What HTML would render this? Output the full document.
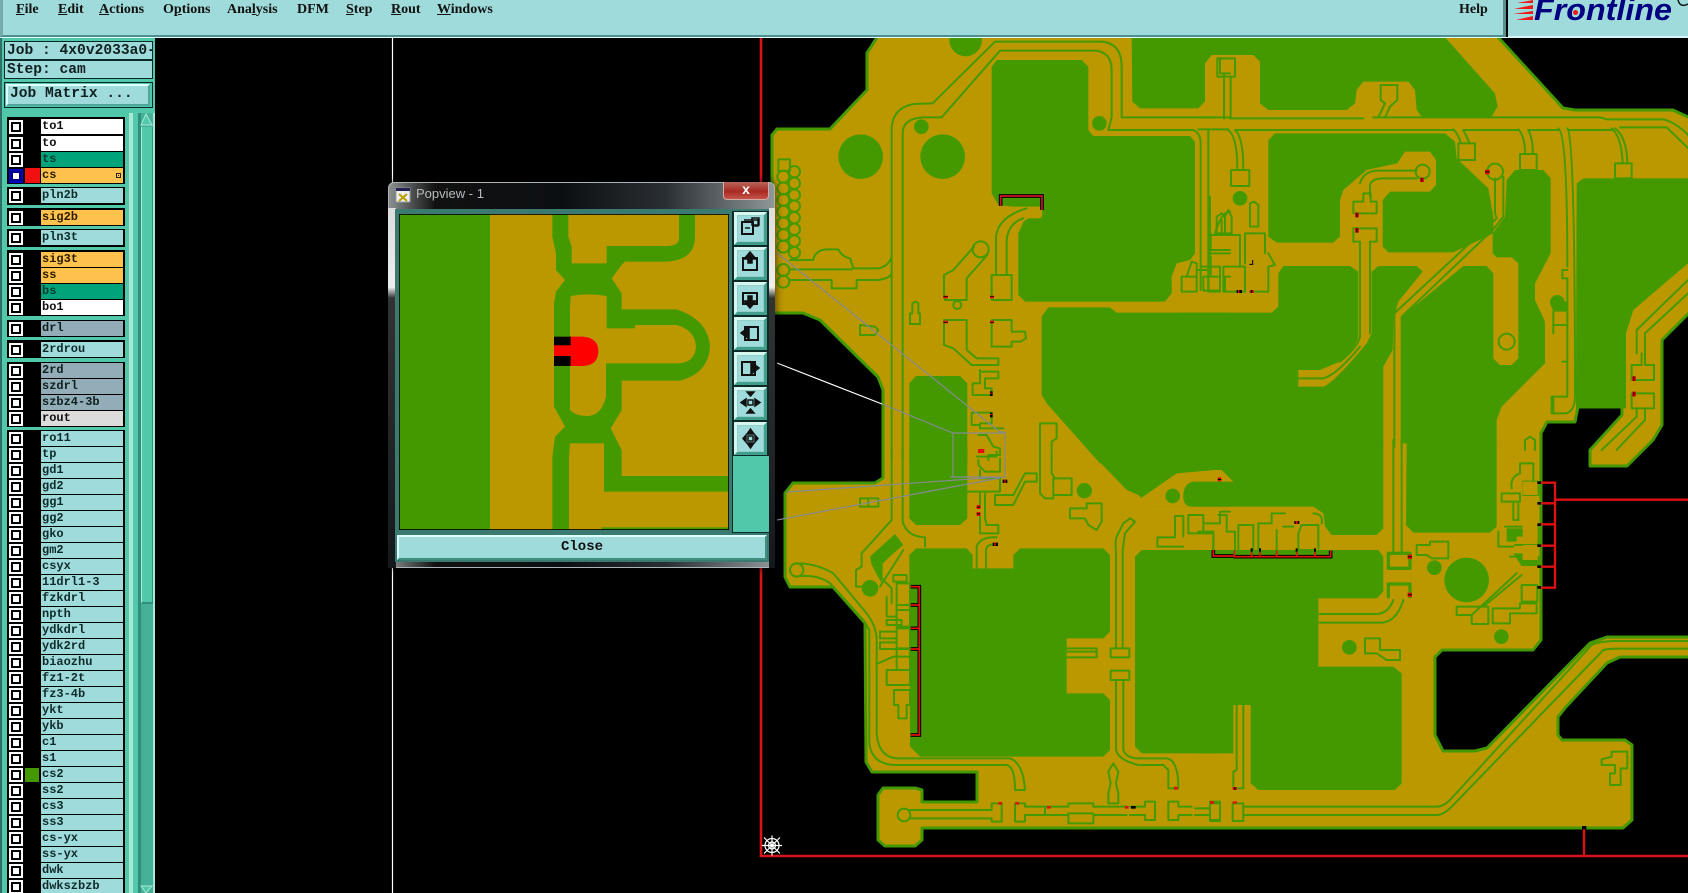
<!DOCTYPE html>
<html><head><meta charset="utf-8"><title>Popview</title>
<style>
html,body{margin:0;padding:0;background:#000;width:1688px;height:893px;overflow:hidden}
#root{position:relative;width:1688px;height:893px;overflow:hidden;background:#000;font-family:"Liberation Mono",monospace}
svg{position:absolute;left:0;top:0}
.abs{position:absolute}
#top{left:0;top:0;width:1503px;height:35px;background:#9fdbdb;border-bottom:2px solid #4f8f8f;border-right:3px solid #5b8f8f}
#top2{left:0;top:37px;width:1688px;height:1px;background:#dff}
#logo{left:1508px;top:0;width:180px;height:36px;background:#9fdbdb;border-bottom:2px solid #d8f4f4}
.m{position:absolute;top:1px;font:bold 14px/18px "Liberation Serif",serif;color:#111}
.m u{text-decoration:underline}
#panel{left:0;top:38px;width:155px;height:855px;background:#52c8aa;border-left:2px solid #2f6f66;box-sizing:border-box}
.jb{position:absolute;left:4px;width:149px;background:#9fdbdb;border:1px solid #0a2a28;box-sizing:border-box;font:bold 14.6px/18px "Liberation Mono",monospace;color:#102020;padding-left:2px;white-space:nowrap;overflow:hidden}
.grp{position:absolute;left:7px;width:118px;background:#000}
.r{position:absolute;left:9px;width:114px;height:15px}
.r i{position:absolute;left:0;top:1px;width:6px;height:6px;border:2px solid #000;outline:2px solid #fff;outline-offset:0;margin:2px;background:#fff;box-sizing:content-box}
.r b{position:absolute;left:32px;top:0;width:82px;height:100%;background:#9fdbdb;font:bold 12px/14px "Liberation Mono",monospace;color:#0f2a2a;padding-left:1px;box-sizing:border-box;overflow:hidden;white-space:nowrap}
.w b{background:#fff;color:#111}.t b{background:#00a37a;color:#0a3a30}.o b{background:#ffc34d;color:#2a1a00}.g b{background:#93adb8;color:#0d2020}.l b{background:#dcdcdc;color:#111}
.bl i{outline-color:#0000c0;border-color:#000080}
#pop{left:388px;top:182px;width:387px;height:386px;border-radius:6px;background:linear-gradient(90deg,#8a9090 0,#111 12%,#0c0f12 45%,#2a2f33 72%,#8f9799 100%);box-shadow:0 0 9px rgba(0,0,0,.7);border:1px solid #aeb4b6;box-sizing:border-box}
#edgeL{left:388px;top:208px;width:8px;height:360px;background:linear-gradient(180deg,#ddd 0,#eee 22%,#333 25%,#14181c 100%)}
#edgeR{left:769px;top:208px;width:6px;height:360px;background:linear-gradient(180deg,#ddd 0,#eee 22%,#333 25%,#14181c 100%)}
#ttl{left:416px;top:186px;font:13px/16px "Liberation Sans",sans-serif;color:#b9bcbe;white-space:nowrap}
#xb{left:723px;top:182px;width:46px;height:18px;background:linear-gradient(180deg,#b8655c,#a82a22 55%,#c4544a);border:1px solid #d9a9a4;border-top:0;border-radius:0 0 4px 4px;box-sizing:border-box;color:#fff;font:bold 14px/15px "Liberation Sans",sans-serif;text-align:center}
#pin{left:395px;top:209px;width:374px;height:353px;background:#3a7a70}
#pside{left:732px;top:211px;width:37px;height:322px;background:#0d2a27}
#pfill{left:733px;top:456px;width:36px;height:76px;background:#52c8aa}
.pb{position:absolute;left:734px;width:33px;height:33px;background:#9fdbdb;border:3px solid;border-color:#d8f6f0 #3f9f8c #3f9f8c #d8f6f0;box-sizing:border-box;box-shadow:inset 0 0 0 1px #8fcfc8}
#closeb{left:397px;top:535px;width:370px;height:25px;background:#9fdbdb;border:2px solid #3f8f80;border-top-color:#dff;border-left-color:#dff;box-sizing:border-box;text-align:center;font:bold 14px/21px "Liberation Mono",monospace;color:#111}
.gr{fill:#449900}
.go{fill:#bc9800}
.tr{fill:none;stroke:#449900;stroke-width:6;stroke-linejoin:round;stroke-linecap:round}
.rd{fill:#e01010}.bk{fill:#000}
</style></head><body><div id="root">

<svg width="1688" height="893" viewBox="0 0 1688 893">
<path fill="#bc9800" stroke="#449900" stroke-width="3" stroke-linejoin="round" d="M878,36 L867,53 V90 L830,129 H777 L772,135 V313 H803 L820,320 L878,377 L883,390 V478 L875,483 H793 L785,493 V577 L790,587 H833 L865,623 L866,762 L872,772 H977 V802 H922 V790 L915,788 H883 L878,795 V840 L885,846 H915 L922,840 V828 H1623 L1632,820 V745 L1625,740 H1562 L1558,735 V717 L1565,708 L1607,663 L1620,657 H1690 V637 H1607 L1590,643 L1487,748 L1475,751 H1443 L1435,735 V657 L1442,650 H1533 L1541,640 V433 L1547,422 H1575 L1578,407 H1622 V415 L1590,450 V466 H1627 L1653,440 L1662,425 V340 L1690,312 V118 L1673,110 H1575 L1563,108 L1497,36 Z"/>

<g transform="translate(750,30) scale(.33333)">
<circle class="gr" cx="647" cy="30" r="49"/><circle class="gr" cx="332" cy="380" r="67"/><circle class="gr" cx="578" cy="380" r="67"/><circle class="gr" cx="514" cy="290" r="22"/><circle class="gr" cx="1048" cy="280" r="22"/>
<path class="gr" d="M725,110 L740,90 H995 L1015,110 V300 L1030,318 H1320 L1335,335 V670 L1320,690 L1280,700 L1265,740 V790 L1245,815 H825 L805,795 V610 L825,565 H870 V530 H790 L745,525 L725,490 Z"/>
<path class="go" d="M735,620 Q745,550 835,533 L850,560 Q775,580 770,735 H735Z"/>
<circle class="go" cx="835" cy="548" r="17"/><ellipse class="go" cx="868" cy="550" rx="9" ry="15"/>
<path class="gr" d="M1145,20 H1440 V75 H1380 L1365,95 V215 L1345,235 H1170 L1147,215 Z"/>
<path class="gr" d="M875,860 L895,832 H1080 L1100,848 H1440 V1300 H1050 L890,1120 L875,1095 Z"/>
<path class="gr" d="M478,1060 L498,1038 H630 L652,1060 V1300 H478 Z"/>
<g class="tr">
<path d="M425,1290 V300 Q425,235 490,222 L548,220 L735,35 H1055 Q1115,40 1115,110 V262 H1440"/>
<path d="M458,1290 V310 Q458,265 520,262 H575 L750,62 H1040 Q1085,70 1085,120 V262 L1075,300 H1330 Q1352,310 1352,340 V780"/>
<path d="M1375,300 V510 M1375,515 V780"/>
<path d="M1405,85 H1440 M1410,85 V130 H1440 M1422,130 V265"/>
<rect x="85" y="388" width="35" height="35"/>
<circle cx="100" cy="440" r="18"/><circle cx="100" cy="475" r="18"/><circle cx="100" cy="510" r="18"/><circle cx="100" cy="545" r="18"/><circle cx="100" cy="580" r="18"/><circle cx="100" cy="615" r="18"/><circle cx="100" cy="650" r="18"/><circle cx="100" cy="720" r="18"/><circle cx="100" cy="755" r="18"/>
<circle cx="133" cy="425" r="17"/><circle cx="133" cy="460" r="17"/><circle cx="133" cy="495" r="17"/><circle cx="133" cy="528" r="17"/><circle cx="133" cy="563" r="17"/><circle cx="133" cy="598" r="17"/><circle cx="133" cy="633" r="17"/><circle cx="133" cy="668" r="17"/>
<path d="M120,690 H190 Q195,660 230,658 H265 Q275,680 300,685 L310,715 H385 Q415,710 425,680"/>
<path d="M120,718 H305"/>
<path d="M120,750 H245 V775 H320 V750 H385 Q420,745 425,730"/>
<path d="M480,882 V850 H487 V820 L497,815 L505,820 V850 H510 V882 Z"/>
<path d="M330,885 L375,890 L385,900 L375,915 H330 Z"/>
<path d="M582,800 V735 L610,720 L672,650 M712,675 L650,745 V810 H585 V800"/>
<circle cx="692" cy="658" r="24"/><circle cx="622" cy="825" r="12"/>
<path d="M725,735 H785 V810 H725 Z"/>
<path d="M738,735 V620 Q745,560 830,535 M770,735 V630 Q775,580 820,565"/>
<path d="M582,870 V945 L610,955 L665,1005 H745 V985 H680 L650,960 V870 Z"/>
<path d="M725,870 H785 V905 H825 L828,925 L812,935 H785 V950 H725 Z"/>
<path d="M690,1020 V1060 H668 V1095 H725 V1075 H705 V1045 H745 V1025 H690"/>
<path d="M665,1148 H725 V1180 H690 V1195 H760 M665,1148 V1185 H690 M685,1215 H710 L730,1250 L750,1255 V1275 H715 V1290"/>
<path d="M870,1180 H920 V1225 L905,1235 V1290 M870,1180 V1290"/>
<path d="M1295,740 H1340 V785 H1295 Z M1310,740 L1325,695 L1340,700 V740"/>
<path d="M1360,740 H1410 V782 H1360 Z M1425,740 H1440 M1425,782 V740"/>
<path d="M1395,610 Q1415,545 1440,545 M1400,610 H1440 M1382,610 V660 H1440 M1382,680 V735 M1415,570 V610"/>
</g>
<g>
<rect class="rd" x="580" y="797" width="14" height="8"/><rect class="bk" x="580" y="799" width="14" height="2"/>
<rect class="rd" x="720" y="797" width="12" height="8"/><rect class="bk" x="720" y="799" width="12" height="2"/>
<rect class="rd" x="580" y="872" width="14" height="8"/><rect class="bk" x="580" y="876" width="14" height="2"/>
<rect class="rd" x="720" y="872" width="12" height="8"/><rect class="bk" x="720" y="876" width="12" height="2"/>
<rect class="bk" x="720" y="1084" width="8" height="14"/><rect class="rd" x="720" y="1088" width="8" height="3"/>
<rect class="bk" x="720" y="1148" width="8" height="14"/><rect class="rd" x="720" y="1152" width="8" height="3"/>
<rect class="rd" x="684" y="1258" width="18" height="11"/>
<path d="M752,528 V498 H876 V540" fill="none" stroke="#000" stroke-width="11"/>
<path d="M752,528 V498 H876 V540" fill="none" stroke="#d01020" stroke-width="5"/>
</g>
</g>

<g transform="translate(1200,0) scale(.33333)">
<path class="gr" d="M-10,100 H725 L885,280 L893,320 L875,350 H665 L650,330 L645,270 L625,245 H490 L470,270 L465,310 L440,330 H205 L180,310 V185 L160,165 H35 L15,190 V290 L-10,310 Z"/>
<path class="gr" d="M225,400 H735 L765,425 L770,475 L865,565 L880,650 V700 L760,757 H565 L548,740 V600 L570,575 H690 L708,555 V480 L690,455 H615 L592,490 L500,510 L430,570 L420,600 V710 L400,728 H230 L205,710 V420 Z"/>
<path class="gr" d="M-60,938 H215 L235,920 V820 L250,798 H450 L475,815 V1010 Q470,1040 420,1085 L360,1110 H295 V1160 H370 Q400,1150 500,1030 L515,1000 V815 L535,798 H650 L668,815 L595,905 L580,960 L578,1050 L550,1100 V1330 H-60 Z"/>
<path class="gr" d="M920,540 L945,510 H1030 L1052,535 V760 L1005,850 V900 L1035,965 V1090 L905,1220 L890,1260 V1330 H605 V950 L790,798 H860 L880,820 V1075 L900,1095 H935 L955,1075 V790 L935,772 H890 L878,760 V700 L900,670 L915,650 Z"/>
<path class="gr" d="M1130,550 L1150,535 H1470 V785 L1300,930 L1278,1000 V1225 H1128 V1180 Z"/>
<g class="tr">
<path d="M-5,352 H40 M90,355 H490 M520,352 H1200 L1220,358 H1390 Q1425,365 1470,410"/>
<path d="M-5,388 H85 M105,390 H760 M790,390 H955 M985,390 H1075 M1105,390 H1240"/>
<path d="M1260,382 H1400 L1470,450"/>
<path d="M72,355 V230 M92,355 V230"/><rect x="52" y="175" width="53" height="55"/>
<path d="M542,300 V255 H592 V300 L570,320 L555,352 M542,300 L555,310 L535,352"/>
<path d="M85,390 Q112,410 112,510 M105,390 Q130,410 130,510"/>
<rect x="93" y="510" width="55" height="48"/>
<path d="M760,388 Q780,410 782,430 M790,390 Q805,420 808,430"/><rect x="775" y="430" width="50" height="50"/>
<path d="M955,388 Q975,410 975,460 M985,390 Q1000,420 998,460"/><rect x="960" y="462" width="50" height="48"/>
<path d="M1075,385 Q1102,400 1102,800 M1102,810 H1087 V835 H1102 V1080 M1087,1085 H1102 V1190 M1102,385 Q1125,410 1125,1190 Q1125,1230 1100,1240 H1055 V1190 H1100"/>
<path d="M1235,385 Q1265,410 1268,490 M1245,385 Q1280,410 1282,490"/><rect x="1245" y="490" width="50" height="45"/>
<circle cx="885" cy="515" r="24"/><path d="M885,535 V640 L890,655 L583,940 V1340 M910,530 V650 L878,690 L605,950 V1340"/>
<path d="M480,550 Q490,515 530,512 H650 M510,590 V555 Q515,535 550,535 H650"/>
<circle cx="668" cy="515" r="21"/>
<path d="M460,605 H490 V580 H512 V605 H530 V640 H460 Z M460,685 H530 V725 H510 V1000 M460,685 V725 H480 V1010 Q475,1040 420,1085"/>
<path d="M295,1135 H370 Q410,1125 480,1040"/>
<path d="M30,620 V590 M5,800 H30 V625 M-5,810 H25 V875 H60 V800 H30 M70,875 V800 H135 V875 Z M150,875 H205 V800 L225,795 L205,760 M135,790 V700 H175 M50,700 V650 L65,640 L75,650 V700 M75,690 V650 L85,630 L95,650 V700 M150,680 V610 L162,605 L175,615 V680 H150 M30,705 H120 V800 M180,700 H195 V760 M30,760 H90"/>
<circle cx="920" cy="1025" r="24"/>
<path d="M975,1350 V1320 L990,1310 L1005,1320 V1350"/>
<path d="M1060,935 V975 H1100 M1060,975 V1000"/>
<path d="M1060,1190 V1240"/>
<path d="M1325,1060 V1095 H1295 V1140 H1362 V1095 H1335 V1060 M1295,1180 H1362 V1225 H1295 Z"/>
<path d="M1310,1225 V1250 L1205,1350 M1335,1225 V1260 L1250,1350 M1310,1060 V990 L1464,840 M1335,1060 V1000 L1464,880"/>
</g>
<circle class="gr" cx="120" cy="595" r="22"/><circle class="gr" cx="1072" cy="907" r="22"/>
<path class="gr" d="M1050,905 H1103 V935 H1060 Z"/>
<g>
<rect class="rd" x="465" y="638" width="12" height="14"/><rect class="bk" x="469" y="638" width="3" height="14"/>
<rect class="rd" x="465" y="684" width="12" height="14"/><rect class="bk" x="469" y="684" width="3" height="14"/>
<rect class="rd" x="660" y="533" width="12" height="13"/><rect class="bk" x="664" y="533" width="3" height="13"/>
<rect class="rd" x="855" y="509" width="14" height="14"/><rect class="bk" x="855" y="514" width="14" height="3"/>
<rect class="bk" x="110" y="870" width="16" height="9"/><rect class="rd" x="114" y="870" width="4" height="9"/>
<rect class="rd" x="149" y="870" width="12" height="9"/><rect class="bk" x="153" y="870" width="4" height="9"/>
<rect class="rd" x="1296" y="1129" width="12" height="14"/><rect class="bk" x="1300" y="1129" width="3" height="14"/>
<rect class="rd" x="1296" y="1175" width="12" height="14"/><rect class="bk" x="1300" y="1175" width="3" height="14"/>
<path d="M148,793 H158 V780" fill="none" stroke="#000" stroke-width="3"/>
</g>
</g>

<g transform="translate(1200,440) scale(.33333)">
<path class="gr" d="M-10,0 H550 V265 L530,285 H395 L375,260 L370,220 L340,200 H-10 Z"/>
<path class="go" d="M-10,90 H80 L95,92 V110 L75,130 H-10 Z"/>
<path class="gr" d="M620,0 H890 V260 L870,278 H640 L618,255 Z"/>
<path class="gr" d="M-10,330 H535 L550,350 V455 L530,475 H355 V680 H580 L605,700 V1030 L585,1050 H175 L152,1030 V795 H85 V920 L60,940 H-10 Z"/>
<g class="tr">
<path d="M-5,95 H40 M-5,125 H45 M45,90 V125"/>
<path d="M580,0 V340 M605,0 V340"/>
<path d="M565,340 H630 V385 H565 Z" stroke-width="10"/>
<path d="M565,470 V432 H630 V470" stroke-width="10"/>
<path d="M358,522 H530 Q565,520 580,480 M358,548 H545 Q590,545 610,480"/>
<path d="M650,315 H690 V305 H745 V355 H695 L680,345 H650 Z"/>
<path d="M495,595 H540 V630 H600 V660 H560 L530,640 H495 Z"/>
<path d="M110,795 V990 L100,995 V1045 H130 V795"/>
<path d="M98,1090 H130 V1143 H98 Z M30,1090 H60 V1143 H30 Z M-5,1105 H30 M-5,1125 H30"/>
<path d="M130,1100 H710 Q730,1100 750,1080 L1175,615 Q1195,605 1240,603 H1470"/>
<path d="M130,1125 H710 Q730,1125 755,1100 L1210,630 Q1230,625 1260,626 H1470"/>
<path d="M1235,935 H1282 V985 H1262 V1035 H1230 V1000 H1245 V975 H1205 V958 L1235,950 Z"/>
<path d="M770,500 H835 L865,500 V552 H815 V525 H770 Z M815,525 L950,400 M850,500 L965,405"/>
<path d="M878,505 H960 V490 H1010 V520 H930 V550 H878 Z"/>
<path d="M965,435 H1012 V485 H965 Z"/>
<path d="M970,125 H1015 V165 H970 Z M935,145 Q930,110 960,100 V70 H1000 V120 M905,160 H960 V185 H905 Z M940,190 V240 H955 V190 M915,260 H1015 V315 M895,275 V320 H940 M930,350 H1015 V380 M945,315 H1015"/>
<path d="M40,330 V275 H-5 M105,330 V275 H80 V225 H55 M115,330 V255 H160 V330 M175,330 V250 H215 M230,330 V270 M255,220 H215 V250 M295,330 V280 L305,255 H355 V325 M300,330 H345 M250,260 H280 M340,220 Q370,220 365,250"/>
</g>
<circle class="gr" cx="703" cy="383" r="22"/><circle class="gr" cx="800" cy="420" r="67"/><circle class="gr" cx="904" cy="590" r="22"/><circle class="gr" cx="448" cy="622" r="22"/>
<path class="gr" d="M920,265 H970 V290 H950 V305 H920 Z M940,340 H1012 V378 H965 Z"/>
<rect class="go" x="968" y="125" width="45" height="40"/><rect class="go" x="968" y="190" width="45" height="45"/><rect class="go" x="968" y="250" width="45" height="55"/><rect class="go" x="968" y="315" width="45" height="45"/>
<g fill="none" stroke="#e01010" stroke-width="7">
<path d="M1015,128 H1065 V443 H1015 M1015,190 H1065 M1015,253 H1065 M1015,317 H1065 M1015,380 H1065 M1065,179 H1470"/>
<path d="M1152,1160 V1248"/>
</g>
<g class="bk"><rect x="1012" y="124" width="11" height="8"/><rect x="1012" y="186" width="11" height="8"/><rect x="1012" y="250" width="11" height="8"/><rect x="1012" y="313" width="11" height="8"/><rect x="1012" y="376" width="11" height="8"/><rect x="1012" y="438" width="11" height="8"/><rect x="1146" y="1158" width="13" height="10"/></g>
<path d="M38,332 V350 H392 V332" fill="none" stroke="#000" stroke-width="11"/>
<path d="M38,332 V350 H392 V332 M103,332 V350 M155,325 V350 M180,325 V350 M230,332 V350 M290,332 V350 M345,325 V350" fill="none" stroke="#e01010" stroke-width="5"/>
<path d="M155,325 V335 M180,325 V335 M290,325 V335 M345,325 V335" fill="none" stroke="#000" stroke-width="6"/>
<rect class="bk" x="283" y="243" width="15" height="9"/><rect class="rd" x="287" y="243" width="6" height="9"/>
<rect class="rd" x="52" y="110" width="12" height="14"/><rect class="bk" x="52" y="115" width="12" height="3"/>
<rect class="rd" x="623" y="344" width="13" height="13"/><rect class="bk" x="623" y="349" width="13" height="3"/>
<rect class="rd" x="623" y="458" width="13" height="13"/><rect class="bk" x="623" y="463" width="13" height="3"/>
<rect class="rd" x="98" y="1041" width="13" height="9"/><rect class="bk" x="103" y="1041" width="3" height="9"/>
<rect class="rd" x="98" y="1084" width="13" height="7"/><rect class="rd" x="30" y="1084" width="13" height="7"/>
</g>

<g transform="translate(750,450) scale(.33333)">
<path class="gr" d="M478,-10 H652 V205 L630,225 H498 L478,205 Z"/>
<path class="gr" d="M1010,-5 H1450 V170 H1200 L1165,135 L1130,120 Z"/>
<path class="go" d="M1195,180 L1165,150 L1280,70 L1395,60 H1415 L1450,95 H1330 Q1300,100 1300,140 Q1300,170 1325,170 H1200Z"/>
<rect x="1300" y="105" width="160" height="65" rx="28" class="gr"/>
<path class="gr" d="M478,315 L498,295 H650 L668,315 V355 H790 V315 L810,295 H1060 L1080,315 V545 L1060,565 H950 V730 H1060 L1080,750 V900 L1060,920 H510 L480,890 Z"/>
<path class="gr" d="M1155,320 L1175,300 H1450 V910 H1175 L1155,890 Z"/>
<g class="tr">
<path d="M425,-5 V210 L335,310 V350 L318,360 V410 H340"/>
<path d="M458,-5 V215 Q470,260 525,262 V290"/>
<path d="M140,340 Q200,340 250,370 L350,490 Q380,530 380,570 V850 Q385,920 440,925 H780 Q820,940 825,1020 H795 Q795,950 770,945 H430 Q365,940 358,880 V540 L340,510 L240,400 Q200,370 135,380"/>
<circle cx="140" cy="360" r="20"/>
<circle cx="462" cy="1095" r="19"/>
<path d="M480,1080 H725 V1060 H755 V1115 H725 V1105 H480"/>
<path d="M795,1060 H825 V1070 H885 V1095 H825 V1115 H795 Z M890,1070 H955 V1060 H1030 V1070 H1130 M890,1095 H955 V1120 H1030 V1095 H1130 M1140,1070 H1185 V1055 H1215 V1110 H1185 V1095 H1140 M1030,1090 H955 M1255,1055 H1285 V1070 H1325 M1255,1055 V1110 H1285 V1095 H1325 M1335,1075 H1380 V1055 H1410 V1110 H1380 V1095 H1335"/>
<path d="M1075,1060 H1105 V1030 L1098,1000 L1105,965 L1090,940 L1075,965 L1082,1000 L1075,1030 Z"/>
<path d="M1098,310 Q1095,270 1100,260 L1120,220 L1140,205 L1155,215 L1125,250 L1118,300 V595 M1098,310 V595 M1082,595 H1138 V622 H1082 Z M1082,662 H1138 V690 H1082 Z M1098,690 V900 Q1105,930 1165,945 M1120,690 V900 Q1130,925 1165,925 H1250 Q1285,930 1285,1015 H1255 V960 L1240,945 H1170"/>
<path d="M950,595 H1040 V622 H950 M950,605 H1040"/>
<path d="M680,355 V290 Q690,260 740,262 M708,355 V300 Q710,280 740,285"/>
<path d="M735,165 V135 H790 L825,70 H860 V95 L825,95 L790,165 Z M680,20 H740 V5 M685,30 V45 L705,65 H750 V25 M650,125 H750 V85 H690 V60"/>
<path d="M690,130 V170 M705,130 V205 L710,225 H745 V250 H690 V200"/>
<path d="M870,20 V130 L885,145 H910 V85 H965 V135 H910 M905,20 V70 L915,85"/>
<path d="M960,175 H1010 V160 H1055 V215 L1040,240 L1015,225 L1005,205 H960 Z"/>
<path d="M1222,290 V262 H1275 V198 H1300 V260 M1222,290 H1300 M1315,195 H1360 V220 H1410 V185 H1440 M1315,195 V250 H1390 V310 M1360,250 V225"/>
<path d="M390,410 L460,300 M395,345 V385 L425,415 V460 M445,290 L395,340 M430,375 H470 V395 H430 Z M410,440 V500 H440 M410,510 H455 V525 H410 Z M390,545 H440 V565 H390 Z M390,577 H440 V597 H390 Z M385,640 L430,620 H480 M410,660 H480 V705 H410 Z M432,720 H480 V765 H470 V805 H445 V765 H432 Z M440,535 H480 M440,400 H480 V480 H440 Z M440,465 H480 V530 H440 Z M440,535 H480 V595 H440 Z M440,597 H480 V660 H440 Z"/>
<path d="M330,145 H385 V170 H330 Z M355,145 V170"/>
</g>
<path class="gr" d="M360,320 L435,252 L460,285 L395,340 L395,400 L365,345 Z"/>
<circle class="gr" cx="360" cy="415" r="25"/><circle class="gr" cx="1003" cy="122" r="23"/><circle class="gr" cx="1268" cy="138" r="22"/>
<path d="M482,410 H508 V855 H482 M482,465 H508 M482,535 H508 M482,597 H508" fill="none" stroke="#000" stroke-width="11"/>
<path d="M482,410 H508 V855 H482 M482,465 H508 M482,535 H508 M482,597 H508" fill="none" stroke="#e01010" stroke-width="5"/>
<path d="M1390,300 V318 H1450" fill="none" stroke="#000" stroke-width="11"/>
<path d="M1390,300 V318 H1450" fill="none" stroke="#e01010" stroke-width="5"/>
<rect class="bk" x="758" y="89" width="14" height="10"/><rect class="rd" x="763" y="89" width="4" height="10"/>
<rect class="rd" x="680" y="165" width="11" height="12"/><rect class="bk" x="680" y="170" width="11" height="3"/>
<rect class="rd" x="680" y="186" width="11" height="12"/><rect class="bk" x="680" y="190" width="11" height="3"/>
<rect class="bk" x="728" y="278" width="16" height="10"/><rect class="rd" x="733" y="278" width="4" height="10"/>
<rect class="rd" x="685" y="-3" width="18" height="11"/>
<rect class="rd" x="745" y="1056" width="11" height="8"/><rect class="rd" x="796" y="1056" width="11" height="8"/><rect class="rd" x="891" y="1068" width="11" height="8"/><rect class="rd" x="1125" y="1068" width="11" height="8"/><rect class="bk" x="1143" y="1068" width="14" height="8"/><rect class="rd" x="1272" y="1010" width="11" height="9"/><rect class="rd" x="1380" y="1053" width="11" height="8"/><rect class="rd" x="1403" y="82" width="11" height="12"/><rect class="bk" x="1403" y="87" width="11" height="3"/>
</g>

<path d="M761,36 V856 H1690" fill="none" stroke="#d81418" stroke-width="2.6"/>
<path d="M392.500,38 V893" stroke="#fff" stroke-width="1.2"/>
<g fill="none" stroke="#858a90" stroke-width="1.2">
<path d="M777,253 L1000,432 L1005,432"/>
<path d="M882,404 L953,433 H1005 V477 L1000,477 L950,477 H953 V433"/>
<path d="M787,492 L1000,477"/>
<path d="M777,520 L1000,478"/>
</g>
<path d="M777,363 L882,404" stroke="#fff" stroke-width="1.2"/>
<g transform="translate(772,845.500)" fill="none" stroke="#fff" stroke-width="1.2"><circle r="7"/><circle r="3.500"/><path d="M-10,0 H10 M0,-10 V10 M-8,-8 L8,8 M-8,8 L8,-8"/></g>
</svg>

<div class="abs" style="left:0;top:0;width:1688px;height:38px;background:#000"></div>
<div class="abs" id="top"></div>
<div class="abs" id="top2"></div>
<div class="abs" style="left:0;top:0;width:3px;height:36px;background:#7aa"></div>
<span class="m" style="left:16px"><u>F</u>ile</span><span class="m" style="left:58px"><u>E</u>dit</span><span class="m" style="left:99px"><u>A</u>ctions</span><span class="m" style="left:163px">O<u>p</u>tions</span><span class="m" style="left:227px">Ana<u>l</u>ysis</span><span class="m" style="left:297px">DFM</span><span class="m" style="left:346px"><u>S</u>tep</span><span class="m" style="left:391px"><u>R</u>out</span><span class="m" style="left:437px"><u>W</u>indows</span><span class="m" style="left:1459px">Help</span>
<div class="abs" id="logo"></div>
<svg width="1688" height="40" viewBox="0 0 1688 40" style="height:40px">
<g fill="#f01818"><path d="M1533,0 V3 H1517 Z"/><path d="M1533,5 V9 H1514 Z"/><path d="M1533,11 V14 H1513 Z"/><path d="M1533,16 V20 H1516 Z"/></g>
<text x="1534" y="20" font-family="Liberation Sans, sans-serif" font-weight="bold" font-style="italic" font-size="31" fill="#000080" textLength="138" lengthAdjust="spacingAndGlyphs">Frontline</text>
<circle cx="1575.500" cy="12.500" r="2.500" fill="#f01818"/>
<path d="M1688,4 Q1680,8 1678,0" fill="none" stroke="#111" stroke-width="1.500"/>
</svg>

<div class="abs" id="panel"></div>
<div class="jb" style="top:41px;height:19px">Job : 4x0v2033a0-</div>
<div class="jb" style="top:60px;height:19px">Step: cam</div>
<div class="abs" style="left:4px;top:82px;width:149px;height:26px;background:#52c8aa;border:1px solid #0a2a28;box-sizing:border-box"></div>
<div class="abs" style="left:6px;top:84px;width:144px;height:22px;background:#9fdbdb;border:2px solid #4fa79a;border-top-color:#dff;border-left-color:#dff;box-sizing:border-box;font:bold 14.6px/17px 'Liberation Mono',monospace;color:#102020;padding-left:2px;white-space:nowrap">Job Matrix ...</div>
<div class="abs" style="left:129px;top:113px;width:4px;height:780px;background:#a8e8d4"></div>
<div class="abs" style="left:138px;top:113px;width:3px;height:780px;background:#2f8f78"></div>
<div class="abs" style="left:141px;top:113px;width:12px;height:780px;background:#44b097"></div>
<div class="abs" style="left:153px;top:113px;width:2px;height:780px;background:#a8e8d4"></div>
<div class="abs" style="left:141px;top:127px;width:12px;height:477px;background:#52c8aa;border-left:1px solid #a8e8d4;border-right:1px solid #2f8f78;border-bottom:2px solid #2f8f78;box-sizing:border-box"></div>
<svg width="155" height="893" viewBox="0 0 155 893"><path d="M146,114 L141,125 H152 Z" fill="#52c8aa" stroke="#a8e8d4"/><path d="M146,893 L141,886 H152 Z" fill="#52c8aa" stroke="#a8e8d4"/></svg>
<div class="grp" style="top:117px;height:67px"></div>
<div class="grp" style="top:187px;height:18px"></div>
<div class="grp" style="top:208px;height:18px"></div>
<div class="grp" style="top:229px;height:18px"></div>
<div class="grp" style="top:250px;height:66px"></div>
<div class="grp" style="top:320px;height:17px"></div>
<div class="grp" style="top:340px;height:18px"></div>
<div class="grp" style="top:362px;height:65px"></div>
<div class="grp" style="top:430px;height:463px"></div>
<div class="abs" style="left:25px;top:168px;width:15px;height:15px;background:#f01010"></div>
<div class="abs" style="left:25px;top:768px;width:14px;height:14px;background:#449900"></div>
<div class="r w" style="top:119px"><i></i><b>to1</b></div>
<div class="r w" style="top:136px"><i></i><b>to</b></div>
<div class="r t" style="top:152px"><i></i><b>ts</b></div>
<div class="r o bl" style="top:168px"><i></i><b>cs</b></div>
<div class="abs" style="left:116px;top:173px;width:5px;height:5px;background:#222;border:1px solid #222;box-sizing:border-box;outline:1px solid #ffc34d;outline-offset:-3px"></div>
<div class="r" style="top:188px"><i></i><b>pln2b</b></div>
<div class="r o" style="top:210px"><i></i><b>sig2b</b></div>
<div class="r" style="top:230px"><i></i><b>pln3t</b></div>
<div class="r o" style="top:252px"><i></i><b>sig3t</b></div>
<div class="r o" style="top:268px"><i></i><b>ss</b></div>
<div class="r t" style="top:284px"><i></i><b>bs</b></div>
<div class="r w" style="top:300px"><i></i><b>bo1</b></div>
<div class="r g" style="top:321px"><i></i><b>drl</b></div>
<div class="r" style="top:342px"><i></i><b>2rdrou</b></div>
<div class="r g" style="top:363px"><i></i><b>2rd</b></div>
<div class="r g" style="top:379px"><i></i><b>szdrl</b></div>
<div class="r g" style="top:395px"><i></i><b>szbz4-3b</b></div>
<div class="r l" style="top:411px"><i></i><b>rout</b></div>
<div class="r" style="top:431px"><i></i><b>ro11</b></div>
<div class="r" style="top:447px"><i></i><b>tp</b></div>
<div class="r" style="top:463px"><i></i><b>gd1</b></div>
<div class="r" style="top:479px"><i></i><b>gd2</b></div>
<div class="r" style="top:495px"><i></i><b>gg1</b></div>
<div class="r" style="top:511px"><i></i><b>gg2</b></div>
<div class="r" style="top:527px"><i></i><b>gko</b></div>
<div class="r" style="top:543px"><i></i><b>gm2</b></div>
<div class="r" style="top:559px"><i></i><b>csyx</b></div>
<div class="r" style="top:575px"><i></i><b>11drl1-3</b></div>
<div class="r" style="top:591px"><i></i><b>fzkdrl</b></div>
<div class="r" style="top:607px"><i></i><b>npth</b></div>
<div class="r" style="top:623px"><i></i><b>ydkdrl</b></div>
<div class="r" style="top:639px"><i></i><b>ydk2rd</b></div>
<div class="r" style="top:655px"><i></i><b>biaozhu</b></div>
<div class="r" style="top:671px"><i></i><b>fz1-2t</b></div>
<div class="r" style="top:687px"><i></i><b>fz3-4b</b></div>
<div class="r" style="top:703px"><i></i><b>ykt</b></div>
<div class="r" style="top:719px"><i></i><b>ykb</b></div>
<div class="r" style="top:735px"><i></i><b>c1</b></div>
<div class="r" style="top:751px"><i></i><b>s1</b></div>
<div class="r" style="top:767px"><i></i><b>cs2</b></div>
<div class="r" style="top:783px"><i></i><b>ss2</b></div>
<div class="r" style="top:799px"><i></i><b>cs3</b></div>
<div class="r" style="top:815px"><i></i><b>ss3</b></div>
<div class="r" style="top:831px"><i></i><b>cs-yx</b></div>
<div class="r" style="top:847px"><i></i><b>ss-yx</b></div>
<div class="r" style="top:863px"><i></i><b>dwk</b></div>
<div class="r" style="top:879px"><i></i><b>dwkszbzb</b></div>

<div class="abs" id="pop"></div>
<div class="abs" id="edgeL"></div><div class="abs" id="edgeR"></div>
<div class="abs" id="ttl">Popview - 1</div>
<svg width="1688" height="893" viewBox="0 0 1688 893"><rect x="396" y="188" width="14" height="14" fill="#eee" stroke="#999"/><rect x="396" y="188" width="14" height="3" fill="#225"/><path d="M399,194 L407,201 M407,194 L399,201" stroke="#b8a000" stroke-width="2"/></svg>
<div class="abs" id="xb">x</div>
<div class="abs" id="pin"></div>
<div class="abs" id="pside"></div>
<div class="abs" id="pfill"></div>
<svg style="left:399px;top:214px" width="330" height="316" viewBox="57 132 990 948" preserveAspectRatio="none">
<rect x="57" y="132" width="990" height="948" fill="#bc9800"/>
<rect x="57" y="132" width="273" height="948" fill="#449900"/>
<path class="gr" d="M517,132 V200 L528,250 V300 L555,330 L528,365 L522,400 V710 L555,770 L525,800 L517,860 V1078 H567 V860 L570,820 H672 V965 H1045 V918 H725 V840 L692,775 L725,720 V632 H900 Q985,610 990,530 Q985,450 890,418 H725 V370 L695,325 L725,285 L735,275 H860 Q945,270 945,200 V132 H897 V200 Q900,228 860,228 H680 V280 H575 V230 L565,200 V132 Z"/>
<path class="go" d="M572,378 Q625,368 680,378 V475 H765 V465 H890 Q945,480 948,530 Q945,575 900,580 H678 V680 Q665,735 625,738 Q585,738 570,720 V420 Z"/>
<rect x="665" y="1072" width="380" height="6" fill="#449900"/>
<rect x="522" y="500" width="52" height="88" fill="#000"/><rect x="522" y="526" width="52" height="32" fill="#f00"/>
<path d="M572,500 H610 Q655,505 655,543 Q655,585 610,588 H572 Z" fill="#f00"/>
<rect x="58" y="133" width="988" height="946" fill="none" stroke="#000" stroke-width="3"/>
</svg>
<div class="pb" style="top:212px"></div><div class="pb" style="top:247px"></div><div class="pb" style="top:282px"></div><div class="pb" style="top:317px"></div><div class="pb" style="top:352px"></div><div class="pb" style="top:387px"></div><div class="pb" style="top:422px"></div>
<svg width="1688" height="893" viewBox="0 0 1688 893" fill="none" stroke="#111" stroke-width="1.500">
<rect x="742" y="222" width="11" height="12" stroke-width="2"/><path d="M753,226 H758 V219 M744,220 H759"/><rect x="752" y="218" width="7" height="7"/><path d="M745,228 H750" stroke-width="1.500"/>
<path d="M743,258 H757 V270 H743 Z" stroke-width="2"/><path d="M750,252 L744,259 H756 Z" fill="#111"/><rect x="748" y="258" width="4" height="5" fill="#111"/>
<path d="M743,293 H757 V304 H743 Z" stroke-width="2"/><path d="M750,308 L744,301 H756 Z" fill="#111"/><rect x="748" y="296" width="4" height="5" fill="#111"/>
<path d="M745,327 H758 V340 H745 Z" stroke-width="2"/><path d="M741,333 L749,327 V339 Z" fill="#111"/>
<path d="M742,362 H755 V375 H742 Z" stroke-width="2"/><path d="M759,368 L751,362 V374 Z" fill="#111"/>
<rect x="748" y="400" width="5" height="5"/><path d="M741,402.500 L746,399 V406 Z M760,402.500 L755,399 V406 Z M750.500,396 L747,392 H754 Z M750.500,409 L747,413 H754 Z" fill="#111"/>
<rect x="748" y="436" width="5" height="5"/><path d="M750.500,429 L747,434 H754 Z M750.500,448 L747,443 H754 Z M743,438.500 L746,435 V442 Z M758,438.500 L755,435 V442 Z" fill="#111"/>
</svg>
<div class="abs" id="closeb">Close</div>
</div></body></html>
